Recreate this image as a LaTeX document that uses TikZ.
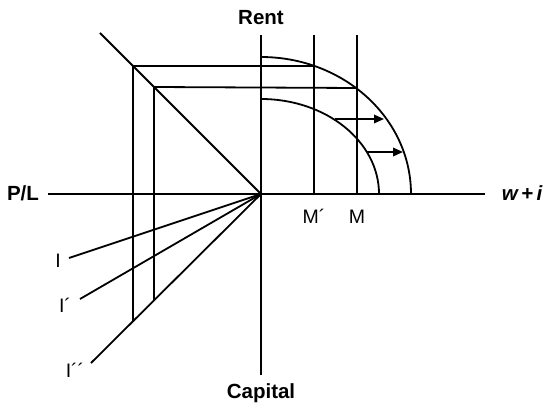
\documentclass[tikz,border=0pt]{standalone}
\usepackage{fontspec}
\setmainfont{Liberation Sans}
\usetikzlibrary{arrows.meta}
\begin{document}
\begin{tikzpicture}[x=1pt,y=1pt,
  ln/.style={line width=1.8pt, line cap=butt},
  arr/.style={ln, -{Triangle[length=10pt,width=8.5pt]}},
  axlab/.style={font=\fontsize{20.5}{23}\selectfont\bfseries, inner sep=0pt, anchor=base},
  lab/.style={font=\fontsize{19.5}{22}\selectfont, inner sep=0pt, anchor=base}]
\useasboundingbox (0,0) rectangle (543,405);
% key points
\coordinate (O) at (261,211);
\coordinate (vt) at (261,370);
\coordinate (vb) at (261,30);
\coordinate (hl) at (48,211);
\coordinate (hr) at (485,211);
\coordinate (Mpt) at (314,370);
\coordinate (Mpb) at (314,211);
\coordinate (Mt) at (357,370);
\coordinate (Mb) at (357,211);
\coordinate (D) at (100,372);
\coordinate (A) at (133,339);
\coordinate (B) at (154,318);
\coordinate (Ae) at (314,339);
\coordinate (Be) at (357,317);
\coordinate (Ab) at (133,83.7);
\coordinate (Bb) at (154,104.6);
\coordinate (I1) at (69,147);
\coordinate (I2) at (80,106);
\coordinate (I3) at (91,42);
\coordinate (a1s) at (335,286);
\coordinate (a1e) at (384,286);
\coordinate (a2s) at (367,253);
\coordinate (a2e) at (403,253);
% axes
\draw[ln] (vt) -- (vb);
\draw[ln] (hl) -- (hr);
% M lines
\draw[ln] (Mpt) -- (Mpb);
\draw[ln] (Mt) -- (Mb);
% diagonal and box lines
\draw[ln] (D) -- (O);
\draw[ln] (A) -- (Ae);
\draw[ln] (B) -- (Be);
\draw[ln] (A) -- (Ab);
\draw[ln] (B) -- (Bb);
% rays
\draw[ln] (O) -- (I1);
\draw[ln] (O) -- (I2);
\draw[ln] (O) -- (I3);
% frontiers
\draw[ln] (261,348) arc[start angle=90, end angle=0, x radius=150, y radius=137];
\draw[ln] (261,306) arc[start angle=90, end angle=0, x radius=118, y radius=95];
% arrows
\draw[arr] (a1s) -- (a1e);
\draw[arr] (a2s) -- (a2e);
% labels
\node[axlab] (rent) at (261,380) {Rent};
\node[axlab] (cap) at (261,7) {Capital};
\node[axlab] (pl) at (23,205) {P/L};
\node[axlab, font=\fontsize{20.5}{23}\selectfont\bfseries\itshape] (wi) at (522,205) {w\,+\,i};
\node[lab] (mp) at (314,182) {M´};
\node[lab] (m) at (357,182) {M};
\node[lab] (l1) at (58,138) {I};
\node[lab] (l2) at (65,93) {I´};
\node[lab] (l3) at (75,28) {I´´};
\end{tikzpicture}
\end{document}
